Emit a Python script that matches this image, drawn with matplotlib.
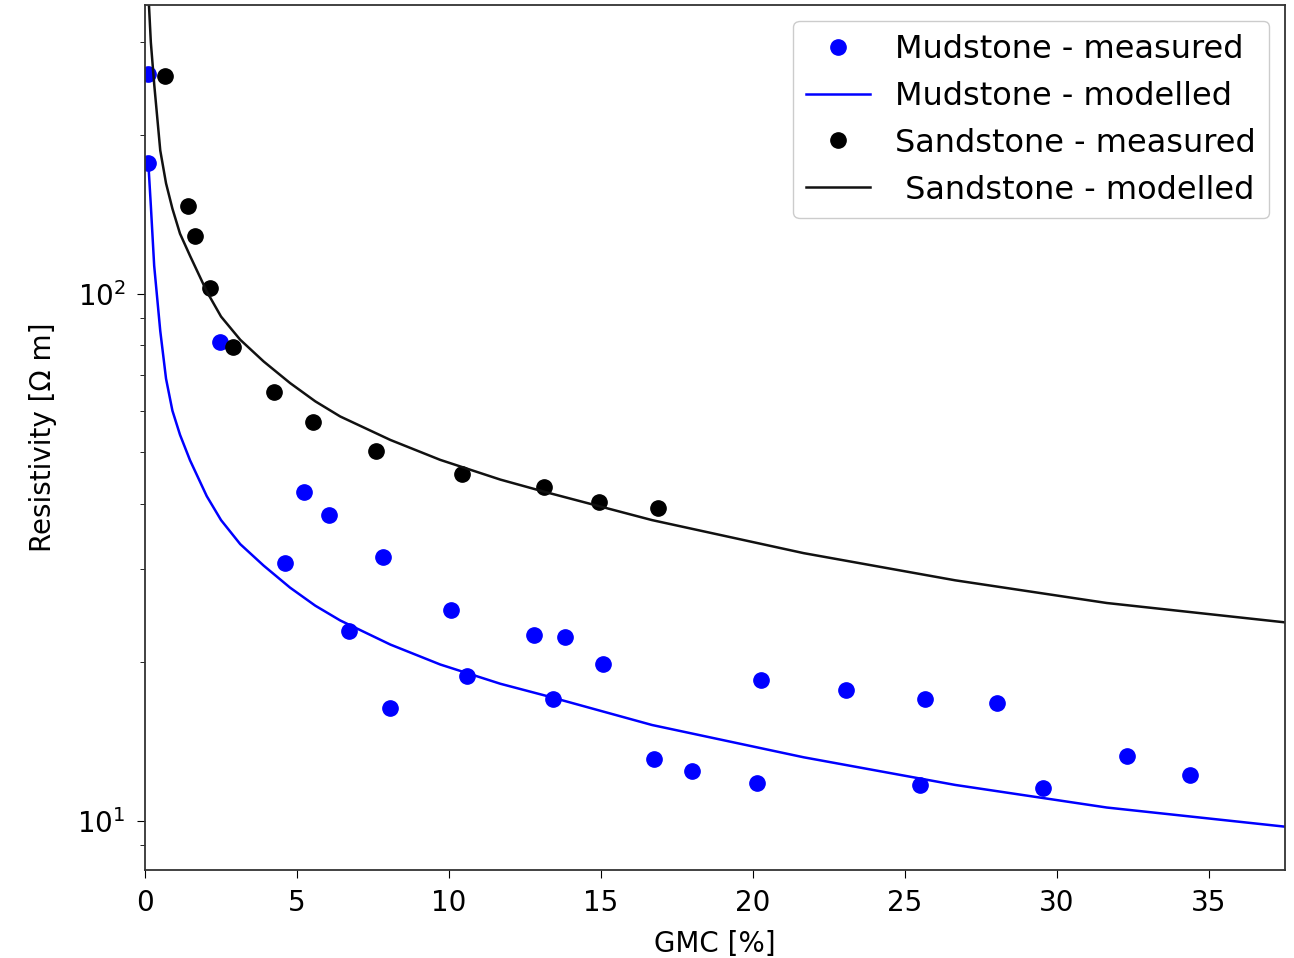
import matplotlib
matplotlib.use('Agg')
import matplotlib.pyplot as plt

# measured data
mud_gmc = [0.1, 0.1, 2.47, 5.24, 6.06, 4.61, 7.84, 6.72, 10.08, 10.6, 8.07, 12.78, 13.83,
           13.43, 15.08, 16.73, 17.98, 20.12, 20.25, 23.05, 25.65, 25.49, 28.02, 29.54,
           32.3, 34.38]
mud_res = [261, 177, 81.1, 42.1, 38.1, 30.9, 31.6, 22.9, 25.1, 18.8, 16.4, 22.5, 22.3,
           17.0, 19.8, 13.1, 12.45, 11.8, 18.5, 17.7, 17.0, 11.7, 16.7, 11.55,
           13.3, 12.2]

sand_gmc = [0.66, 1.42, 1.65, 2.14, 2.90, 4.25, 5.53, 7.61, 10.44, 13.14, 14.95, 16.89]
sand_res = [259, 146.8, 128.9, 102.7, 79.3, 65.2, 57.2, 50.3, 45.5, 42.9, 40.3, 39.3]

# modelled curves
model_gmc = [0.1, 0.19, 0.3, 0.5, 0.69, 0.9, 1.15, 1.48, 2.03, 2.5, 3.13, 3.9, 4.77, 5.6,
             6.42, 8.07, 9.71, 11.69, 13.14, 16.68, 21.67, 26.65, 31.64, 37.5]
sand_model_res = [380, 300, 250, 187, 162, 145, 130, 118, 101, 90.5, 81.8, 74.4, 67.7, 62.5,
                  58.5, 52.8, 48.4, 44.4, 42.1, 37.2, 32.2, 28.6, 25.9, 23.8]
mud_model_res = [180, 147, 113, 85, 69, 60, 54, 48.3, 41.3, 37.2, 33.5, 30.5, 27.7, 25.6,
                 24.0, 21.6, 19.8, 18.2, 17.3, 15.2, 13.2, 11.7, 10.6, 9.75]

fig = plt.figure(figsize=(12.94, 9.58), dpi=100)
ax = fig.add_axes([0.1121, 0.0919, 0.8809, 0.9029])

ax.plot(mud_gmc, mud_res, 'o', color='blue', markersize=11, label='Mudstone - measured')
ax.plot(model_gmc, mud_model_res, '-', color='blue', linewidth=1.8, label='Mudstone - modelled')
ax.plot(sand_gmc, sand_res, 'o', color='black', markersize=11, label='Sandstone - measured')
ax.plot(model_gmc, sand_model_res, '-', color='#111111', linewidth=1.8, label=' Sandstone - modelled')

ax.set_yscale('log')
ax.set_xlim(0, 37.5)
ax.set_ylim(8.07, 353)

ax.set_xlabel('GMC [%]', fontsize=20, labelpad=9)
ax.set_ylabel('Resistivity [Ω m]', fontsize=20, labelpad=15)
ax.tick_params(axis='both', which='major', labelsize=20, length=6, pad=8)
ax.tick_params(axis='both', which='minor', length=3.6, pad=8)

for sp in ax.spines.values():
    sp.set_color('#333333')
    sp.set_linewidth(1.3)

ax.legend(loc='upper right', fontsize=23, numpoints=1, handlelength=2.0,
          borderaxespad=0.5, framealpha=1, edgecolor='#cccccc')

plt.savefig('out.png', dpi=100)
